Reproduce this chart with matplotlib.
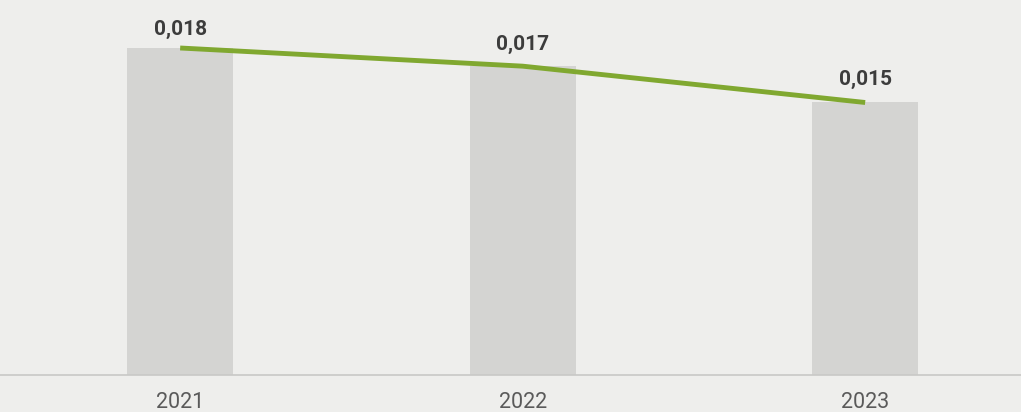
import matplotlib.pyplot as plt
import numpy as np

years = ["2021", "2022", "2023"]
values = [0.018, 0.017, 0.015]
labels = ["0,018", "0,017", "0,015"]

bg = "#eeeeec"
fig = plt.figure(figsize=(10.21, 4.12), dpi=100, facecolor=bg)
ax = fig.add_axes([0, 37 / 412, 1, 375 / 412], facecolor=bg)

x = np.arange(len(years))
ax.bar(x, values, width=0.31, color="#d4d4d2", zorder=1)
ax.plot(x, values, color="#80a830", lw=3.5, solid_capstyle="butt",
        solid_joinstyle="round", zorder=3)

# offsets above each point, in points
offs = [6.5, 9, 9.5]
for xi, v, lab, o in zip(x, values, labels, offs):
    ax.annotate(lab, (xi, v), xytext=(0, o), textcoords="offset points",
                ha="center", va="bottom", fontsize=15, fontweight="bold",
                color="#3c3c3c", family="Roboto", zorder=4)

ax.set_xlim(-0.526, 2.455)
ax.set_ylim(0, 375 / 18167)
ax.set_xticks(x)
ax.set_xticklabels(years, family="Roboto", fontsize=15.5, color="#5a5a5a")
ax.tick_params(axis="x", length=0, pad=12)
ax.set_yticks([])
for s in ["top", "right", "left"]:
    ax.spines[s].set_visible(False)
ax.spines["bottom"].set_color("#c8c8c6")
ax.spines["bottom"].set_linewidth(1.2)

fig.savefig("out.png", dpi=100, facecolor=bg)
